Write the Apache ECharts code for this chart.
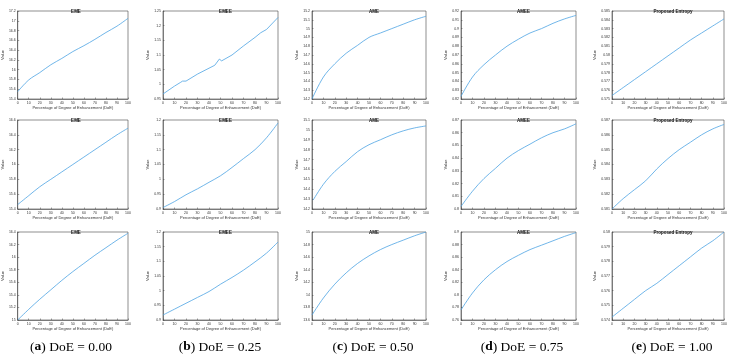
<!DOCTYPE html>
<html>
<head>
<meta charset="utf-8">
<script src="https://cdn.jsdelivr.net/npm/echarts@6/dist/echarts.min.js"></script>
<style>
html, body { margin: 0; padding: 0; background: #fff; }
#main { width: 730px; height: 354px; }
</style>
</head>
<body>
<div id="main"></div>
<script>
// metric names (one per column) and the caption under each column
var panelTitles = ['EME', 'EMEE', 'AME', 'AMEE', 'Proposed Entropy'];
var captionLetters = ['a', 'b', 'c', 'd', 'e'];
var captionDoE = ['0.00', '0.25', '0.50', '0.75', '1.00'];

// percentage of degree of enhancement
var doeX = [0, 10, 20, 30, 40, 50, 60, 70, 80, 90, 100];
var emeeTopX = [0, 10, 15, 17, 18, 20, 30, 40, 45, 49, 51, 60, 70, 80, 85, 90, 100];
var ameMidX = [1, 10, 20, 30, 40, 50, 60, 70, 80, 90, 100];

// row 1
var eme1 = [15.55, 15.79, 15.94, 16.10, 16.23, 16.37, 16.49, 16.62, 16.76, 16.89, 17.05];
var emee1 = [0.967, 0.994, 1.006, 1.011, 1.006, 1.011, 1.035, 1.055, 1.065, 1.086, 1.080, 1.100, 1.131, 1.160, 1.176, 1.187, 1.228];
var ame1 = [14.20, 14.45, 14.60, 14.72, 14.81, 14.90, 14.95, 15.00, 15.05, 15.10, 15.14];
var amee1 = [0.823, 0.845, 0.859, 0.870, 0.880, 0.888, 0.895, 0.900, 0.906, 0.911, 0.915];
var ent1 = [0.5754, 0.5763, 0.5772, 0.5781, 0.5790, 0.5799, 0.5808, 0.5817, 0.5825, 0.5833, 0.5841];
// row 2
var eme2 = [15.46, 15.58, 15.70, 15.80, 15.90, 16.00, 16.10, 16.20, 16.30, 16.40, 16.49];
var emee2 = [0.905, 0.925, 0.948, 0.968, 0.990, 1.012, 1.040, 1.070, 1.100, 1.140, 1.190];
var ame2 = [14.29, 14.45, 14.58, 14.68, 14.78, 14.85, 14.90, 14.95, 14.99, 15.02, 15.04];
var amee2 = [0.802, 0.814, 0.824, 0.832, 0.840, 0.846, 0.851, 0.856, 0.860, 0.863, 0.867];
var ent2 = [0.5810, 0.5817, 0.5823, 0.5829, 0.5837, 0.5844, 0.5850, 0.5855, 0.5860, 0.5864, 0.5867];
// row 3
var eme3 = [15.00, 15.17, 15.33, 15.48, 15.63, 15.77, 15.90, 16.03, 16.15, 16.27, 16.38];
var emee3 = [0.917, 0.937, 0.957, 0.977, 0.997, 1.022, 1.045, 1.070, 1.098, 1.128, 1.166];
var ame3 = [13.68, 13.95, 14.17, 14.35, 14.50, 14.62, 14.72, 14.80, 14.87, 14.94, 15.00];
var amee3 = [0.776, 0.803, 0.824, 0.840, 0.853, 0.863, 0.872, 0.879, 0.886, 0.893, 0.899];
var ent3 = [0.5742, 0.5748, 0.5754, 0.5760, 0.5765, 0.5771, 0.5777, 0.5783, 0.5789, 0.5794, 0.5800];

var panelX = [doeX, emeeTopX, doeX, doeX, doeX,
              doeX, doeX, ameMidX, doeX, doeX,
              doeX, doeX, doeX, doeX, doeX];
var panelY = [eme1, emee1, ame1, amee1, ent1,
              eme2, emee2, ame2, amee2, ent2,
              eme3, emee3, ame3, amee3, ent3];

// y tick range of every panel (row by row)
var yMin  = [15.4, 0.95, 14.2, 0.82, 0.575,  15.4, 0.90, 14.2, 0.80, 0.581,  15.0, 0.90, 13.6, 0.76, 0.574];
var yMax  = [17.2, 1.25, 15.2, 0.92, 0.585,  16.6, 1.20, 15.1, 0.87, 0.587,  16.4, 1.20, 15.0, 0.90, 0.580];
var yStep = [0.2, 0.05, 0.1, 0.01, 0.001,    0.2, 0.05, 0.1, 0.01, 0.001,    0.2, 0.05, 0.2, 0.02, 0.001];

var colLeft = [14, 163, 312, 461, 612];
var colWidth = [114, 115, 114, 115, 112];
var nameGapY = [8, 9, 10, 10, 11];
var rowTop = [11, 120, 232];
var rowHeight = [88, 89, 88];
var captionCenter = [66, 215, 368, 517, 667];

var grids = [], xAxes = [], yAxes = [], series = [], titles = [];
for (var i = 0; i < 15; i++) {
    var r = Math.floor(i / 5), c = i % 5;
    grids.push({
        left: colLeft[c], top: rowTop[r], width: colWidth[c], height: rowHeight[r],
        show: true, borderColor: '#444', borderWidth: 0.6, backgroundColor: '#fff'
    });
    xAxes.push({
        gridIndex: i, type: 'value', min: 0, max: 100, interval: 10,
        name: 'Percentage of Degree of Enhancement (DoE)', nameLocation: 'middle', nameGap: 6,
        nameTextStyle: {fontSize: 4, color: '#333'},
        axisLine: {lineStyle: {color: '#444', width: 0.6}},
        axisTick: {inside: true, length: 1.5, lineStyle: {color: '#444', width: 0.5}},
        axisLabel: {fontSize: 3.5, color: '#333', margin: 2},
        splitLine: {show: false}
    });
    yAxes.push({
        gridIndex: i, type: 'value', min: yMin[i], max: yMax[i], interval: yStep[i],
        name: 'Value', nameLocation: 'middle', nameGap: nameGapY[c],
        nameTextStyle: {fontSize: 4, color: '#333'},
        axisLine: {lineStyle: {color: '#444', width: 0.6}},
        axisTick: {inside: true, length: 1.5, lineStyle: {color: '#444', width: 0.5}},
        axisLabel: {fontSize: 3.5, color: '#333', margin: 2},
        splitLine: {show: false}
    });
    var xs = panelX[i], ys = panelY[i];
    series.push({
        type: 'line', xAxisIndex: i, yAxisIndex: i, showSymbol: false, silent: true,
        smooth: i === 1 ? false : 0.35,
        lineStyle: {color: '#4da3e3', width: 0.8},
        data: xs.map(function (x, k) { return [x, ys[k]]; })
    });
    titles.push({
        text: panelTitles[c], left: colLeft[c] + colWidth[c] / 2, top: rowTop[r] - 7,
        textAlign: 'center',
        textStyle: {fontSize: 4.5, fontWeight: 'bold', color: '#111'}
    });
}
for (var c = 0; c < 5; c++) {
    titles.push({
        text: '{p|(}{b|' + captionLetters[c] + '}{p|) DoE = ' + captionDoE[c] + '}',
        left: captionCenter[c], top: 335, textAlign: 'center',
        textStyle: {
            fontWeight: 'normal',
            rich: {
                p: {fontFamily: 'Liberation Serif', fontSize: 13.5, fontWeight: 'normal', color: '#000'},
                b: {fontFamily: 'Liberation Serif', fontSize: 13.5, fontWeight: 'bold', color: '#000'}
            }
        }
    });
}

var chart = echarts.init(document.getElementById('main'));
chart.setOption({
    backgroundColor: '#fff',
    animation: false,
    title: titles,
    grid: grids,
    xAxis: xAxes,
    yAxis: yAxes,
    series: series
});
</script>
</body>
</html>
